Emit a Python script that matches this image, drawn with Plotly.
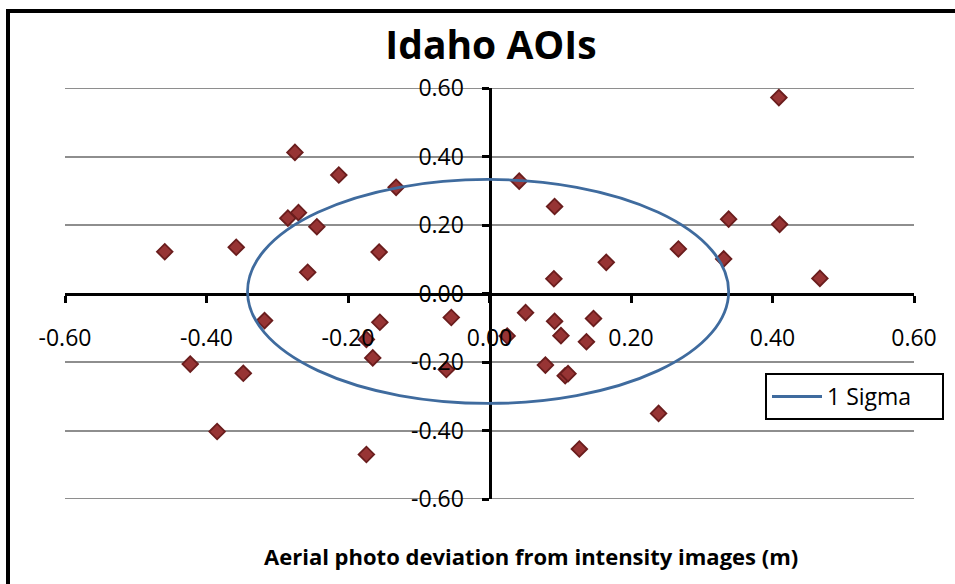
import plotly.graph_objects as go

# Deviation data (m)
x_dev = [-0.459, -0.358, -0.275, -0.213, -0.132, -0.285, -0.270, -0.244, -0.156, -0.257,
         0.409, 0.042, 0.092, 0.338, 0.410, 0.267, 0.331, 0.165, 0.091, 0.467,
         -0.318, -0.155, -0.054, -0.174, -0.165, -0.423, -0.348, -0.061, -0.385, -0.174,
         0.051, 0.092, 0.147, 0.101, 0.137, 0.025, 0.079, 0.107, 0.111, 0.239, 0.127]
y_dev = [0.122, 0.135, 0.412, 0.346, 0.310, 0.220, 0.236, 0.195, 0.121, 0.062,
         0.572, 0.328, 0.254, 0.217, 0.202, 0.130, 0.101, 0.091, 0.043, 0.044,
         -0.079, -0.084, -0.070, -0.134, -0.188, -0.206, -0.233, -0.222, -0.403, -0.470,
         -0.056, -0.081, -0.073, -0.123, -0.141, -0.124, -0.209, -0.240, -0.234, -0.350, -0.454]

# 1-sigma ellipse parameters
sigma_center = [-0.002, 0.006]
sigma_radius = [0.340, 0.327]

tick_vals = [-0.6, -0.4, -0.2, 0.0, 0.2, 0.4, 0.6]
tick_text = ["-0.60", "-0.40", "-0.20", "0.00", "0.20", "0.40", "0.60"]

FONT = "Open Sans"
ELL_COLOR = "#3f6b9e"
GRID_COLOR = "#8e8e8e"

W, H = 955, 584
ml, mr, mt, mb = 65, 41, 88, 85
pw, ph = W - ml - mr, H - mt - mb


def px_x(p):
    return (p - ml) / pw


def px_y(p):
    return (H - mb - p) / ph


fig = go.Figure()
fig.add_trace(go.Scatter(
    x=x_dev, y=y_dev, mode="markers", showlegend=False,
    marker=dict(symbol="diamond", size=12, color="#973434",
                line=dict(color="#6a1d1d", width=1.8)),
))
fig.add_trace(go.Scatter(
    x=[None], y=[None], mode="lines", name="1 Sigma",
    line=dict(color=ELL_COLOR, width=3),
))

# gridlines at the range ends (plotly clips them)
for v in (tick_vals[0], tick_vals[-1]):
    fig.add_shape(type="line", xref="paper", yref="y", layer="below",
                  x0=0, x1=1, y0=v, y1=v,
                  line=dict(color=GRID_COLOR, width=2))

fig.add_shape(type="circle", xref="x", yref="y", layer="above",
              x0=sigma_center[0] - sigma_radius[0], x1=sigma_center[0] + sigma_radius[0],
              y0=sigma_center[1] - sigma_radius[1], y1=sigma_center[1] + sigma_radius[1],
              line=dict(color=ELL_COLOR, width=2.8))

# outer chart border (only left and top visible in the frame)
fig.add_shape(type="rect", xref="paper", yref="paper", layer="above",
              x0=px_x(8), x1=px_x(1000), y0=px_y(700), y1=px_y(11),
              line=dict(color="black", width=4))

fig.add_annotation(text="<b>Aerial photo deviation from intensity images (m)</b>",
                   xref="paper", yref="paper", x=px_x(531), y=px_y(556),
                   xanchor="center", yanchor="middle", showarrow=False,
                   font=dict(family=FONT, size=22, color="black"))

axis_common = dict(
    range=[-0.6, 0.6], tickvals=tick_vals, ticktext=tick_text,
    showline=True, linecolor="black", linewidth=3,
    ticks="outside", ticklen=7, tickwidth=2.5, tickcolor="black",
    zeroline=False, anchor="free", position=0.5, automargin=False,
    tickfont=dict(family=FONT, size=23, color="black"),
)

fig.update_layout(
    width=W, height=H,
    margin=dict(l=ml, r=mr, t=mt, b=mb, autoexpand=False),
    paper_bgcolor="white", plot_bgcolor="white",
    title=dict(text="<b>Idaho AOIs</b>", xref="container", yref="container",
               x=491 / W, y=1 - 45 / H, xanchor="center", yanchor="middle",
               font=dict(family=FONT, size=39, color="black")),
    xaxis=dict(showgrid=False, ticklabelstandoff=16, **axis_common),
    yaxis=dict(showgrid=True, gridcolor=GRID_COLOR, gridwidth=2,
               ticklabelstandoff=13, **axis_common),
    legend=dict(xref="container", yref="container",
                x=765 / W, y=1 - 373 / H, xanchor="left", yanchor="top",
                orientation="h", entrywidth=110, itemwidth=50,
                bordercolor="black", borderwidth=2, bgcolor="white",
                font=dict(family=FONT, size=23, color="black")),
    showlegend=True,
)

fig.write_html("out.html",
               config={"displayModeBar": False},
               post_script="document.body.style.margin='0';")
